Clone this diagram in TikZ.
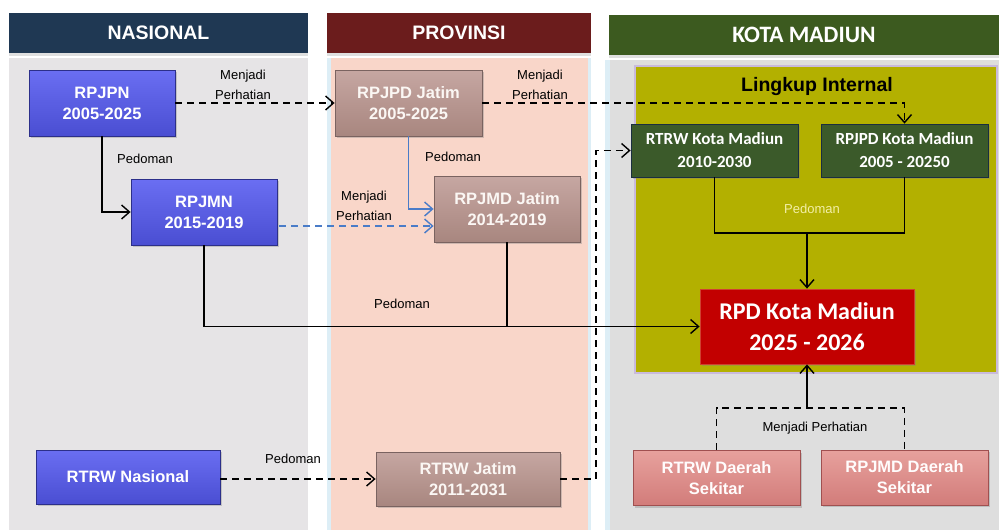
\documentclass[tikz,border=0pt]{standalone}
\usepackage{fontspec}
\setmainfont{Liberation Sans}
\newfontfamily\calfont{Carlito}
\usetikzlibrary{arrows.meta,shadows,calc}
\definecolor{navyhead}{HTML}{1F3853}
\definecolor{redhead}{HTML}{6B1C1C}
\definecolor{greenhead}{HTML}{3C5A1F}
\definecolor{natpanel}{HTML}{E6E4E6}
\definecolor{provpanel}{HTML}{F9D6C9}
\definecolor{kotapanel}{HTML}{DEDEDE}
\definecolor{olivebox}{HTML}{B3B000}
\definecolor{olivebord}{HTML}{C9BADC}
\definecolor{edgeblue}{HTML}{DDEEF6}
\definecolor{bluetop}{HTML}{6A6EF2}
\definecolor{bluebot}{HTML}{4A4ED2}
\definecolor{blueedge}{HTML}{2C2F8A}
\definecolor{browntop}{HTML}{C6A7A2}
\definecolor{brownbot}{HTML}{A8867F}
\definecolor{brownedge}{HTML}{7A6360}
\definecolor{greennode}{HTML}{3B5A2A}
\definecolor{greenedge}{HTML}{1A2E40}
\definecolor{rpdred}{HTML}{C20000}
\definecolor{rpdedge}{HTML}{D04030}
\definecolor{pinktop}{HTML}{E7A19D}
\definecolor{pinkbot}{HTML}{D27C7A}
\definecolor{pinkedge}{HTML}{A05050}
\definecolor{linkblue}{HTML}{4A7CC8}
\definecolor{palelabel}{HTML}{F3EFA6}
\tikzset{
  x=1pt, y=-1pt,
  headbox/.style={minimum width=#1, minimum height=40pt, inner sep=0pt,
    text=white, font=\fontsize{19.5}{22}\selectfont\bfseries,
    drop shadow={shadow xshift=0pt, shadow yshift=-3pt, opacity=0.25}},
  basebox/.style={minimum width=146pt, minimum height=66pt, inner sep=0pt, align=center,
    font=\fontsize{16.5}{21}\selectfont\bfseries, line width=0.8pt,
    drop shadow={shadow xshift=1.5pt, shadow yshift=-2pt, opacity=0.35}},
  bluebox/.style={basebox, draw=blueedge, top color=bluetop, bottom color=bluebot, text=white},
  brownbox/.style={basebox, draw=brownedge, top color=browntop, bottom color=brownbot, text=white!94!brown},
  greenbox/.style={basebox, minimum width=167pt, minimum height=53pt, draw=greenedge, fill=greennode,
    text=white, font=\calfont\fontsize{17}{23}\selectfont\bfseries},
  pinkbox/.style={basebox, minimum width=167pt, minimum height=55pt, draw=pinkedge,
    top color=pinktop, bottom color=pinkbot, text=white!95!pink},
  lbl/.style={font=\fontsize{13}{20}\selectfont, align=center, inner sep=0pt},
  conn/.style={line width=1.5pt},
  arr/.style={-{Straight Barb[length=8pt,width=14pt,line width=1.4pt]}},
  dsh/.style={dash pattern=on 7pt off 5pt},
}
\begin{document}
\begin{tikzpicture}
\useasboundingbox (0,0) rectangle (999,530);
\fill[white] (0,0) rectangle (999,530);
% panels
\fill[natpanel] (9,58) rectangle (308,530);
\fill[edgeblue] (327,58) rectangle (591,530);
\fill[provpanel] (331,58) rectangle (588,530);
\fill[edgeblue] (605,60) rectangle (999,530);
\fill[kotapanel] (610,60) rectangle (999,530);
\filldraw[fill=olivebox, draw=olivebord, line width=2pt] (635,66) rectangle (997,373);
% headers
\node[headbox=299pt, fill=navyhead] (hnas) at (158.5,33) {NASIONAL};
\node[headbox=264pt, fill=redhead] (hprov) at (459,33) {PROVINSI};
\node[headbox=390pt, fill=greenhead, font=\calfont\fontsize{23.5}{24}\selectfont\bfseries] (hkota) at (804,35) {KOTA MADIUN};
\node[font=\fontsize{19.5}{22}\selectfont\bfseries, inner sep=0pt] (ling) at (817,87) {Lingkup Internal};
% nodes
\node[bluebox] (rpjpn) at (102,103) {RPJPN\\2005-2025};
\node[bluebox] (rpjmn) at (204,212) {RPJMN\\2015-2019};
\node[bluebox, minimum width=184pt, minimum height=54pt] (rtrwn) at (128,477) {RTRW Nasional};
\node[brownbox, minimum width=147pt] (rpjpdj) at (408.5,103) {RPJPD Jatim\\2005-2025};
\node[brownbox] (rpjmdj) at (507,209) {RPJMD Jatim\\2014-2019};
\node[brownbox, minimum width=184pt, minimum height=54pt] (rtrwj) at (468,479) {RTRW Jatim\\2011-2031};
\node[greenbox] (rtrwk) at (714.5,150.5) {RTRW Kota Madiun\\2010-2030};
\node[greenbox] (rpjpdk) at (904.5,150.5) {RPJPD Kota Madiun\\2005 - 20250};
\node[basebox, minimum width=214pt, minimum height=75pt, draw=rpdedge, fill=rpdred, text=white,
  font=\calfont\fontsize{24}{31}\selectfont\bfseries] (rpd) at (807,326.5) {RPD Kota Madiun\\2025 - 2026};
\node[pinkbox] (rtrwds) at (716.5,478) {RTRW Daerah\\Sekitar};
\node[pinkbox] (rpjmdds) at (904.5,477.5) {RPJMD Daerah\\Sekitar};
% junctions
\coordinate (j1) at (807,233);
\coordinate (j2) at (807,408);
\coordinate (jb) at (596,479);
% connectors
\draw[conn, dsh, arr] (rpjpn.east) -- (rpjpdj.west);
\draw[conn, arr] (rpjpn.south) |- (rpjmn.west);
\draw[conn, dsh, arr, draw=linkblue] ($(rpjmn.east)+(2,14)$) -- ($(rpjmdj.west)+(0,17)$);
\draw[conn, arr, draw=linkblue] (rpjpdj.south) |- (rpjmdj.west);
\draw[conn, dsh, arr] (rpjpdj.east) -| (rpjpdk.north);
\draw[conn, arr] (rpjmn.south) |- (rpd.west);
\draw[conn] (rpjmdj.south) -- (rpjmdj.south |- rpd.west);
\draw[conn, dsh, arr] (rtrwn.east |- rtrwj.west) -- (rtrwj.west);
\draw[conn, dsh, arr] (rtrwj.east) -- (jb) |- (rtrwk.west);
\draw[conn] (rtrwk.south) |- (j1) -| (rpjpdk.south);
\draw[conn, arr] (j1) -- (rpd.north);
\draw[conn, dsh] (rtrwds.north) |- (j2) -| (rpjmdds.north);
\draw[conn, arr] (j2) -- (rpd.south);
% labels
\node[lbl] (l1) at (243,85) {Menjadi\\Perhatian};
\node[lbl] (l2) at (364,206) {Menjadi\\Perhatian};
\node[lbl] (l3) at (540,85) {Menjadi\\Perhatian};
\node[lbl] (l4) at (145,159) {Pedoman};
\node[lbl] (l5) at (453,157) {Pedoman};
\node[lbl] (l6) at (402,304) {Pedoman};
\node[lbl] (l7) at (293,459) {Pedoman};
\node[lbl, text=palelabel] (l8) at (812,209) {Pedoman};
\node[lbl] (l9) at (815,428) {Menjadi Perhatian};
\end{tikzpicture}
\end{document}
